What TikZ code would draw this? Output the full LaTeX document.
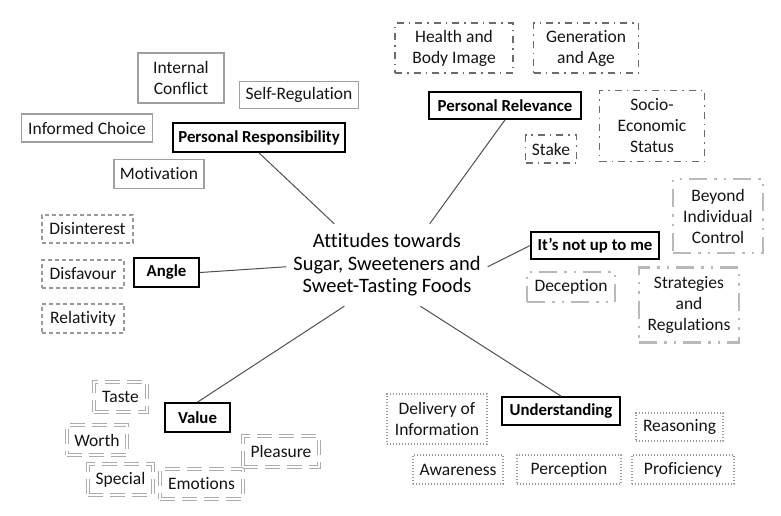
\documentclass[tikz,border=0pt]{standalone}
\usepackage{fontspec}
\setmainfont{Carlito}[Ligatures={TeX,NoCommon}]
\usetikzlibrary{positioning}
\definecolor{inkGray}{RGB}{20,20,20}
\definecolor{lineGray}{RGB}{80,80,80}
\tikzset{
  mm/hub/.style={rectangle, minimum width=201pt, minimum height=82pt,
    inner sep=0pt, align=center, text=black,
    font=\fontsize{20.5}{22.5}\selectfont},
  mm/main/.style={rectangle, draw=black, line width=1.8pt, inner sep=0pt,
    text=black, font=\fontsize{16.8}{20}\selectfont\bfseries},
  mm/sub/.style={rectangle, inner sep=0pt, align=center, text=inkGray,
    font=\fontsize{17.5}{21}\selectfont},
  mm/size/.style 2 args={minimum width=#1pt, minimum height=#2pt},
  mm/resp/.style={mm/sub, draw=gray!75, line width=1.1pt},
  mm/rel/.style={mm/sub, draw=gray!85!black, line width=1.4pt,
    dash pattern=on 7pt off 5pt on 1.5pt off 5pt},
  mm/nup/.style={mm/sub, draw=gray!55, line width=2.8pt,
    dash pattern=on 18pt off 7pt on 2.5pt off 7pt on 2.5pt off 7pt},
  mm/ang/.style={mm/sub, draw=gray!80, line width=1.1pt,
    dash pattern=on 4pt off 3pt},
  mm/val/.style={mm/sub, draw=gray!65, line width=1.4pt, double=white,
    double distance=1.4pt, dash pattern=on 15pt off 7pt},
  mm/und/.style={mm/sub, draw=gray!80, line width=1.3pt,
    dash pattern=on 1.3pt off 1.7pt},
  mm/link/.style={draw=lineGray, line width=1pt}
}
\begin{document}
\begin{tikzpicture}[x=1pt, y=-1pt]
  \useasboundingbox (0,0) rectangle (781,515);

  % centre
  \node[mm/hub] (hub) at (387,265)
        {Attitudes towards\\Sugar, Sweeteners and\\Sweet-Tasting Foods};

  % themes
  \node[mm/main, mm/size={172}{29}] (pr)    at (259,137.5) {Personal Responsibility};
  \node[mm/main, mm/size={152}{27}] (rel)   at (505,105.5) {Personal Relevance};
  \node[mm/main, mm/size={128}{27}] (nup)   at (595,245.5) {It’s not up to me};
  \node[mm/main, mm/size={65}{29}]  (angle) at (166.5,272.5) {Angle};
  \node[mm/main, mm/size={65}{29}]  (value) at (197.5,417.5) {Value};
  \node[mm/main, mm/size={118}{28}] (und)   at (561,411) {Understanding};

  % personal responsibility
  \node[mm/resp, mm/size={86}{50}]  (conflict) at (181,78)  {Internal\\Conflict};
  \node[mm/resp, mm/size={119}{27}] (selfreg)  at (299,95)  {Self-Regulation};
  \node[mm/resp, mm/size={131}{28}] (choice)   at (87,128)  {Informed Choice};
  \node[mm/resp, mm/size={90}{29}]  (motiv)    at (159,174) {Motivation};

  % personal relevance
  \node[mm/rel, mm/size={118}{50}] (health) at (454,48)  {Health and\\Body Image};
  \node[mm/rel, mm/size={105}{50}] (gener)  at (586,48)  {Generation\\and Age};
  \node[mm/rel, mm/size={105}{71}] (socio)  at (652,126) {Socio-\\Economic\\Status};
  \node[mm/rel, mm/size={51}{28}]  (stake)  at (551,149) {Stake};

  % it's not up to me
  \node[mm/nup, mm/size={90}{74}]  (beyond) at (718,216) {Beyond\\Individual\\Control};
  \node[mm/nup, mm/size={88}{30}]  (decep)  at (571,287) {Deception};
  \node[mm/nup, mm/size={100}{75}] (strat)  at (689,305) {Strategies\\and\\Regulations};

  % angle
  \node[mm/ang, mm/size={91}{28}] (disint) at (87.5,229) {Disinterest};
  \node[mm/ang, mm/size={82}{28}] (disfav) at (83,274)   {Disfavour};
  \node[mm/ang, mm/size={82}{29}] (relat)  at (83,318.5) {Relativity};

  % value
  \node[mm/val, mm/size={53}{30}] (taste)   at (120.5,397) {Taste};
  \node[mm/val, mm/size={60}{30}] (worth)   at (97,440)    {Worth};
  \node[mm/val, mm/size={65}{31}] (special) at (120.5,479.5) {Special};
  \node[mm/val, mm/size={83}{30}] (emot)    at (201.5,484) {Emotions};
  \node[mm/val, mm/size={76}{31}] (pleas)   at (281,451.5) {Pleasure};

  % understanding
  \node[mm/und, mm/size={100}{50}] (deliv)  at (437,419) {Delivery of\\Information};
  \node[mm/und, mm/size={87}{28}]  (reason) at (679.5,427) {Reasoning};
  \node[mm/und, mm/size={90}{29}]  (aware)  at (458,469.5) {Awareness};
  \node[mm/und, mm/size={104}{29}] (percep) at (569,469.5) {Perception};
  \node[mm/und, mm/size={102}{29}] (profic) at (683,469.5) {Proficiency};

  % links to the centre
  \draw[mm/link] (pr.south)    -- (hub.142);
  \draw[mm/link] (rel.south)   -- (hub.44);
  \draw[mm/link] (nup.west)    -- (hub.-1);
  \draw[mm/link] (angle.east)  -- (hub.181);
  \draw[mm/link] (value.north) -- (hub.224);
  \draw[mm/link] (und.north)   -- (hub.309);
\end{tikzpicture}
\end{document}
